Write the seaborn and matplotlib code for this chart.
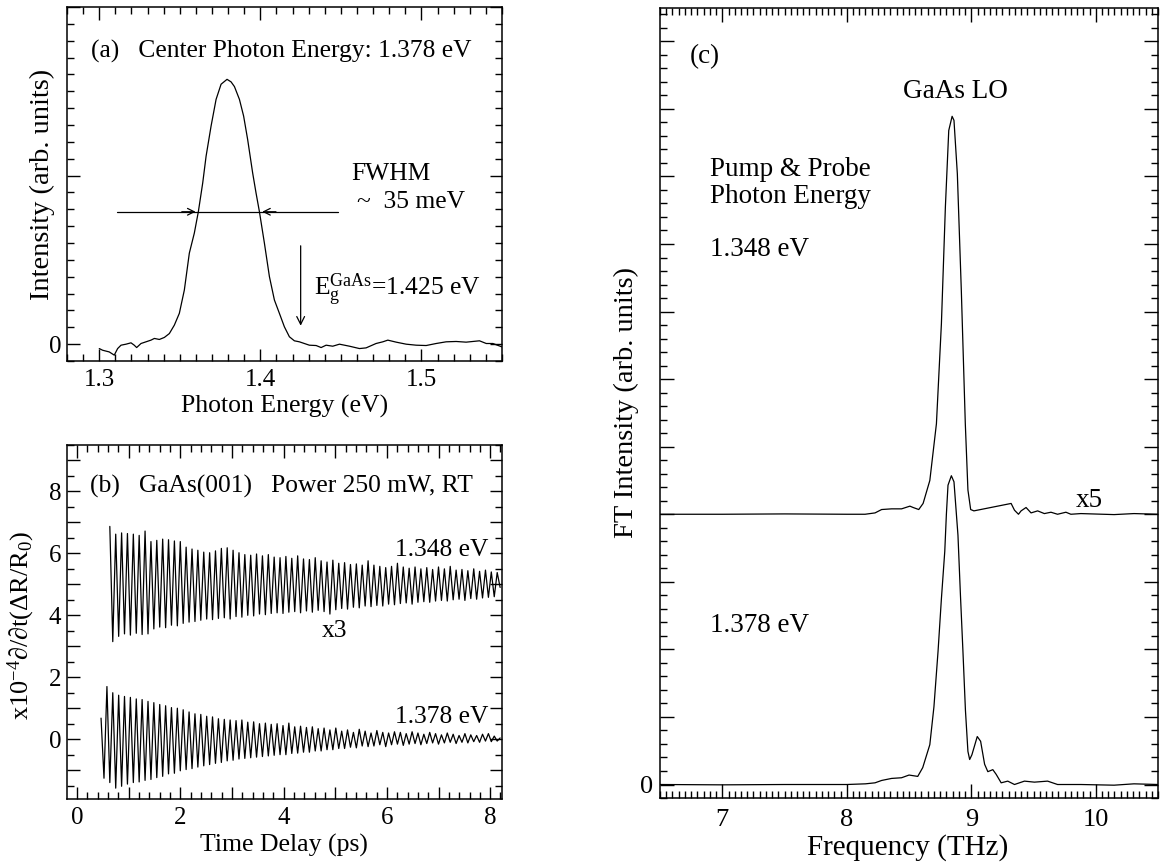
import matplotlib
matplotlib.use("Agg")
import matplotlib.pyplot as plt
from matplotlib.ticker import MultipleLocator, FuncFormatter
import seaborn as sns

# ---------------- Panel (a): laser spectrum ----------------
energy_a = [1.3000, 1.3021, 1.3062, 1.3093, 1.3114, 1.3135, 1.3166, 1.3197, 1.3217, 1.3232,
            1.3259, 1.3290, 1.3321, 1.3342, 1.3373, 1.3404, 1.3435, 1.3466, 1.3497, 1.3528,
            1.3559, 1.3590, 1.3615, 1.3642, 1.3663, 1.3694, 1.3725, 1.3756, 1.3793, 1.3818,
            1.3839, 1.3870, 1.3896, 1.3921, 1.3952, 1.3973, 1.3994, 1.4025, 1.4056, 1.4087,
            1.4118, 1.4149, 1.4180, 1.4211, 1.4242, 1.4273, 1.4304, 1.4346, 1.4377, 1.4408,
            1.4449, 1.4491, 1.4553, 1.4615, 1.4656, 1.4718, 1.4760, 1.4791, 1.4843, 1.4905,
            1.4967, 1.5029, 1.5091, 1.5153, 1.5215, 1.5277, 1.5360, 1.5402, 1.5443, 1.5499]
intensity_a = [-0.026, -0.036, -0.046, -0.065, -0.026, -0.006, 0.000, 0.008, -0.006, -0.020,
               0.004, 0.014, 0.024, 0.034, 0.028, 0.040, 0.063, 0.113, 0.183, 0.321,
               0.540, 0.659, 0.786, 0.956, 1.115, 1.294, 1.452, 1.542, 1.571, 1.556,
               1.528, 1.452, 1.353, 1.214, 1.016, 0.897, 0.786, 0.599, 0.401, 0.262,
               0.183, 0.103, 0.044, 0.020, 0.014, 0.004, -0.006, -0.008, -0.020, -0.006,
               -0.012, 0.000, -0.012, -0.026, -0.022, 0.004, 0.014, 0.024, 0.012, 0.000,
               -0.006, -0.008, 0.004, 0.014, 0.016, 0.012, 0.020, 0.004, 0.004, -0.016]
fwhm_edges = [1.3615, 1.3994]
fwhm_bar = [1.311, 1.448]
eg_gaas = 1.425
eg_arrow = [0.60, 0.093]

# ---------------- Panel (b): time-domain signals ----------------
t_b = [0.468, 0.525, 0.582, 0.638, 0.695, 0.752, 0.809, 0.866, 0.922, 0.979,
       1.036, 1.093, 1.150, 1.206, 1.263, 1.320, 1.377, 1.434, 1.490, 1.547,
       1.604, 1.661, 1.718, 1.774, 1.831, 1.888, 1.945, 2.002, 2.058, 2.115,
       2.172, 2.229, 2.286, 2.342, 2.399, 2.456, 2.513, 2.570, 2.626, 2.683,
       2.740, 2.797, 2.854, 2.910, 2.967, 3.024, 3.081, 3.138, 3.194, 3.251,
       3.308, 3.365, 3.422, 3.478, 3.535, 3.592, 3.649, 3.706, 3.762, 3.819,
       3.876, 3.933, 3.990, 4.046, 4.103, 4.160, 4.217, 4.274, 4.330, 4.387,
       4.444, 4.501, 4.558, 4.614, 4.671, 4.728, 4.785, 4.842, 4.898, 4.955,
       5.012, 5.069, 5.126, 5.182, 5.239, 5.296, 5.353, 5.410, 5.466, 5.523,
       5.580, 5.637, 5.694, 5.750, 5.807, 5.864, 5.921, 5.978, 6.034, 6.091,
       6.148, 6.205, 6.262, 6.318, 6.375, 6.432, 6.489, 6.546, 6.602, 6.659,
       6.716, 6.773, 6.830, 6.886, 6.943, 7.000, 7.057, 7.114, 7.170, 7.227,
       7.284, 7.341, 7.398, 7.454, 7.511, 7.568, 7.625, 7.682, 7.738, 7.795,
       7.852, 7.909, 7.966, 8.022, 8.079, 8.136, 8.193]
dr_1378 = [0.68, -1.26, 1.70, -1.40, 1.50, -1.58, 1.42, -1.52, 1.38, -1.45,
           1.35, -1.40, 1.30, -1.38, 1.28, -1.33, 1.22, -1.30, 1.18, -1.24,
           1.12, -1.20, 1.08, -1.12, 1.02, -1.10, 1.00, -1.02, 0.95, -0.98,
           0.88, -0.95, 0.82, -0.90, 0.80, -0.86, 0.74, -0.82, 0.72, -0.78,
           0.66, -0.75, 0.64, -0.70, 0.62, -0.68, 0.60, -0.64, 0.62, -0.62,
           0.55, -0.60, 0.56, -0.58, 0.50, -0.56, 0.52, -0.54, 0.48, -0.52,
           0.50, -0.50, 0.44, -0.50, 0.52, -0.46, 0.40, -0.45, 0.42, -0.42,
           0.38, -0.42, 0.40, -0.38, 0.34, -0.38, 0.36, -0.34, 0.30, -0.34,
           0.36, -0.30, 0.26, -0.30, 0.30, -0.26, 0.22, -0.28, 0.32, -0.22,
           0.26, -0.24, 0.20, -0.22, 0.28, -0.18, 0.22, -0.24, 0.20, -0.18,
           0.24, -0.16, 0.22, -0.20, 0.18, -0.16, 0.24, -0.14, 0.20, -0.18,
           0.16, -0.14, 0.22, -0.12, 0.18, -0.16, 0.14, -0.12, 0.20, -0.10,
           0.16, -0.14, 0.12, -0.10, 0.18, -0.12, 0.14, -0.08, 0.12, -0.10,
           0.16, -0.06, 0.18, -0.08, 0.10, -0.06, 0.04]
# 1.348 eV trace (x3, offset) starts at the 4th time sample
dr_1348 = [6.87, 3.15, 6.62, 3.32, 6.66, 3.40, 6.64, 3.36, 6.62, 3.42,
           6.58, 3.38, 6.72, 3.40, 6.38, 3.56, 6.42, 3.62, 6.46, 3.60,
           6.44, 3.68, 6.40, 3.66, 6.38, 3.74, 6.20, 3.78, 6.14, 3.80,
           6.10, 3.84, 6.04, 3.88, 6.02, 3.86, 6.08, 3.90, 6.16, 3.92,
           6.18, 3.88, 6.10, 3.96, 6.02, 3.94, 5.96, 4.00, 5.94, 3.98,
           5.98, 4.04, 5.92, 4.02, 5.96, 4.06, 5.88, 4.08, 5.86, 4.06,
           5.90, 4.10, 5.84, 4.12, 5.92, 4.08, 5.82, 4.14, 5.80, 4.10,
           5.86, 4.16, 5.76, 4.12, 5.72, 4.04, 5.78, 4.18, 5.68, 4.22,
           5.70, 4.20, 5.64, 4.26, 5.66, 4.24, 5.62, 4.30, 5.76, 4.28,
           5.62, 4.32, 5.58, 4.30, 5.54, 4.36, 5.58, 4.34, 5.68, 4.38,
           5.56, 4.40, 5.52, 4.36, 5.56, 4.42, 5.50, 4.44, 5.54, 4.42,
           5.48, 4.46, 5.56, 4.48, 5.50, 4.46, 5.58, 4.50, 5.46, 4.52,
           5.48, 4.48, 5.44, 4.54, 5.50, 4.52, 5.42, 4.56, 5.46, 4.58,
           5.40, 4.60, 5.38, 4.90]
t_b_1348 = t_b[3:]

# ---------------- Panel (c): FT spectra ----------------
freq_1348 = [6.50, 7.00, 7.50, 8.00, 8.147, 8.227, 8.28, 8.36, 8.44, 8.507,
             8.533, 8.578, 8.613, 8.667, 8.72, 8.76, 8.792, 8.819, 8.846, 8.861,
             8.888, 8.92, 8.952, 8.973, 8.995, 9.021, 9.32, 9.347, 9.379, 9.40,
             9.44, 9.48, 9.533, 9.587, 9.64, 9.693, 9.76, 9.80, 9.88, 10.147,
             10.307, 10.50]
ft_1348 = [4.0, 4.0, 4.005, 4.0, 4.0, 4.02, 4.07, 4.08, 4.08, 4.12,
           4.10, 4.07, 4.16, 4.50, 5.34, 6.82, 8.55, 9.68, 9.89, 9.83,
           9.04, 7.31, 5.34, 4.36, 4.07, 4.05, 4.16, 4.06, 4.0, 4.05,
           4.10, 4.02, 4.05, 4.01, 4.03, 4.0, 4.03, 4.0, 4.01, 3.995,
           4.01, 4.0]
freq_1378 = [6.50, 7.00, 7.50, 8.00, 8.15, 8.227, 8.28, 8.36, 8.44, 8.50,
             8.57, 8.61, 8.667, 8.70, 8.733, 8.76, 8.787, 8.80, 8.813, 8.84,
             8.861, 8.893, 8.913, 8.933, 8.953, 8.973, 8.987, 9.005, 9.048, 9.075,
             9.107, 9.133, 9.173, 9.20, 9.24, 9.293, 9.347, 9.427, 9.507, 9.613,
             9.693, 9.88, 10.147, 10.307, 10.50]
ft_1378 = [0.0, -0.005, 0.0, 0.0, 0.01, 0.025, 0.06, 0.09, 0.10, 0.14,
           0.12, 0.25, 0.59, 1.15, 1.97, 2.75, 3.45, 4.0, 4.43, 4.57,
           4.48, 3.69, 2.80, 1.97, 1.10, 0.49, 0.37, 0.44, 0.71, 0.64,
           0.30, 0.19, 0.22, 0.15, 0.025, 0.05, 0.0, 0.05, 0.035, 0.05,
           0.0, 0.0, -0.01, 0.01, 0.0]

# ---------------- Style ----------------
sns.set_theme(style="ticks")
plt.rcParams["font.family"] = ["Liberation Serif", "DejaVu Serif"]
plt.rcParams["mathtext.fontset"] = "custom"
plt.rcParams["mathtext.rm"] = "Liberation Serif"
plt.rcParams["mathtext.it"] = "Liberation Serif:italic"
plt.rcParams["mathtext.bf"] = "Liberation Serif:bold"
plt.rcParams["axes.linewidth"] = 1.1
plt.rcParams["text.color"] = "black"
plt.rcParams["axes.labelcolor"] = "black"
plt.rcParams["axes.edgecolor"] = "black"
plt.rcParams["xtick.color"] = "black"
plt.rcParams["ytick.color"] = "black"

LINE = dict(color="black", linewidth=0.9, estimator=None, sort=False, legend=False)
TXT = 18.4

fig = plt.figure(figsize=(11.6, 8.66), dpi=100)
ax_a = fig.add_axes([0.0578, 0.5831, 0.3750, 0.4088])
ax_b = fig.add_axes([0.0578, 0.0774, 0.3750, 0.4088])
ax_c = fig.add_axes([0.5690, 0.0785, 0.4293, 0.9128])


def style_ticks(ax, labelsize, xpad, ypad, major_len=9, minor_len=5):
    ax.tick_params(which="both", direction="in", top=True, right=True,
                   colors="black", width=1.0)
    ax.tick_params(which="major", length=major_len, labelsize=labelsize)
    ax.tick_params(which="minor", length=minor_len)
    ax.tick_params(axis="x", which="major", pad=xpad)
    ax.tick_params(axis="y", which="major", pad=ypad)
    for s in ax.spines.values():
        s.set_visible(True)
        s.set_color("black")


only_zero = FuncFormatter(lambda v, p: "0" if abs(v) < 1e-9 else "")
even_int = FuncFormatter(lambda v, p: f"{int(round(v))}" if int(round(v)) % 2 == 0 else "")

# ---------------- Panel (a) ----------------
sns.lineplot(x=energy_a, y=intensity_a, ax=ax_a, **LINE)
ax_a.set_xlim(1.28, 1.55)
ax_a.set_ylim(-0.1, 2.0)
ax_a.xaxis.set_major_locator(MultipleLocator(0.1))
ax_a.xaxis.set_minor_locator(MultipleLocator(0.01))
ax_a.xaxis.set_major_formatter(FuncFormatter(lambda v, p: f"{v:.1f}"))
ax_a.yaxis.set_major_locator(MultipleLocator(1.0))
ax_a.yaxis.set_minor_locator(MultipleLocator(0.1))
ax_a.yaxis.set_major_formatter(only_zero)
style_ticks(ax_a, 18, 6, 4)
ax_a.set_xlabel("Photon Energy (eV)", fontsize=18.5)
ax_a.set_ylabel("Intensity (arb. units)", fontsize=20.5)
ax_a.xaxis.set_label_coords(0.499, -0.095)
ax_a.yaxis.set_label_coords(-0.027, 0.5)

half_max = max(intensity_a) / 2
ax_a.plot(fwhm_bar, [half_max, half_max], color="black", linewidth=0.9)
ax_a.annotate("", xy=(fwhm_edges[0], half_max), xytext=(fwhm_edges[0] - 0.012, half_max),
              arrowprops=dict(arrowstyle="->", color="black", lw=0.9, mutation_scale=12))
ax_a.annotate("", xy=(fwhm_edges[1], half_max), xytext=(fwhm_edges[1] + 0.012, half_max),
              arrowprops=dict(arrowstyle="->", color="black", lw=0.9, mutation_scale=12))
ax_a.annotate("", xy=(eg_gaas, eg_arrow[1]), xytext=(eg_gaas, eg_arrow[0]),
              arrowprops=dict(arrowstyle="->", color="black", lw=0.9, mutation_scale=14))
ax_a.text(1.295, 1.70, "(a)   Center Photon Energy: 1.378 eV", fontsize=TXT,
          ha="left", va="baseline")
ax_a.text(1.4565, 0.976, "FWHM", fontsize=TXT, ha="left", va="baseline")
ax_a.text(1.4602, 0.808, "~  35 meV", fontsize=TXT, ha="left", va="baseline")
ax_a.text(1.4335, 0.292, r"E$_{\mathrm{g}}^{\mathrm{GaAs}}$=1.425 eV", fontsize=TXT,
          ha="left", va="baseline")

# ---------------- Panel (b) ----------------
sns.lineplot(x=t_b_1348, y=dr_1348, ax=ax_b, **LINE)
sns.lineplot(x=t_b, y=dr_1378, ax=ax_b, **LINE)
ax_b.set_xlim(-0.19, 8.23)
ax_b.set_ylim(-1.93, 9.5)
ax_b.xaxis.set_major_locator(MultipleLocator(1))
ax_b.xaxis.set_minor_locator(MultipleLocator(0.2))
ax_b.xaxis.set_major_formatter(even_int)
ax_b.yaxis.set_major_locator(MultipleLocator(1))
ax_b.yaxis.set_minor_locator(MultipleLocator(0.5))
ax_b.yaxis.set_major_formatter(even_int)
style_ticks(ax_b, 18, 6, 4)
ax_b.set_xlabel("Time Delay (ps)", fontsize=18.5)
ax_b.set_ylabel(r"x10$^{\mathrm{-4}}$∂/∂t(ΔR/R$_{\mathrm{0}}$)", fontsize=19)
ax_b.xaxis.set_label_coords(0.499, -0.1)
ax_b.yaxis.set_label_coords(-0.069, 0.49)
ax_b.text(0.26, 7.95, "(b)   GaAs(001)   Power 250 mW, RT", fontsize=TXT,
          ha="left", va="baseline")
ax_b.text(6.16, 5.9, "1.348 eV", fontsize=TXT, ha="left", va="baseline")
ax_b.text(4.75, 3.31, "x3", fontsize=TXT, ha="left", va="baseline")
ax_b.text(6.16, 0.52, "1.378 eV", fontsize=TXT, ha="left", va="baseline")

# ---------------- Panel (c) ----------------
sns.lineplot(x=freq_1348, y=ft_1348, ax=ax_c, **LINE)
sns.lineplot(x=freq_1378, y=ft_1378, ax=ax_c, **LINE)
ax_c.set_xlim(6.5, 10.5)
ax_c.set_ylim(-0.2, 11.5)
ax_c.xaxis.set_major_locator(MultipleLocator(1))
ax_c.xaxis.set_minor_locator(MultipleLocator(0.05))
ax_c.yaxis.set_major_locator(MultipleLocator(1))
ax_c.yaxis.set_minor_locator(MultipleLocator(0.2))
ax_c.yaxis.set_major_formatter(only_zero)
style_ticks(ax_c, 19, 8, 5, major_len=10, minor_len=5)
ax_c.set_xlabel("Frequency (THz)", fontsize=21)
ax_c.set_ylabel("FT Intensity (arb. units)", fontsize=20.5)
ax_c.xaxis.set_label_coords(0.498, -0.045)
ax_c.yaxis.set_label_coords(-0.042, 0.5)

CS = 19.5
ax_c.text(6.74, 10.68, "(c)", fontsize=CS, ha="left", va="baseline")
ax_c.text(8.87, 10.16, "GaAs LO", fontsize=CS, ha="center", va="baseline")
ax_c.text(6.90, 9.0, "Pump & Probe", fontsize=CS, ha="left", va="baseline")
ax_c.text(6.90, 8.6, "Photon Energy", fontsize=CS, ha="left", va="baseline")
ax_c.text(6.90, 7.82, "1.348 eV", fontsize=CS, ha="left", va="baseline")
ax_c.text(6.90, 2.26, "1.378 eV", fontsize=CS, ha="left", va="baseline")
ax_c.text(9.84, 4.10, "x5", fontsize=CS, ha="left", va="baseline")

fig.savefig("out.png", dpi=100, facecolor="white")
